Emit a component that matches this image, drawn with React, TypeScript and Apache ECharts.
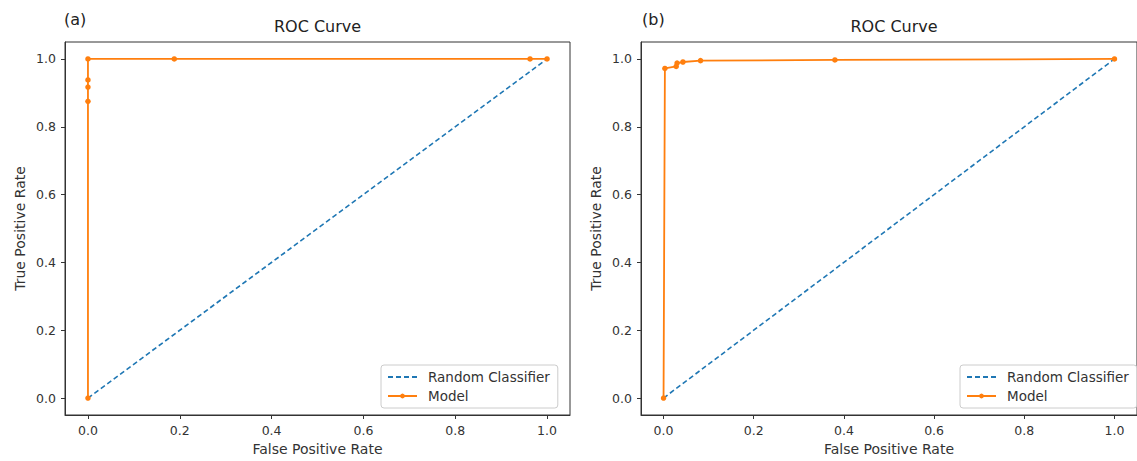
import React, { useEffect, useRef } from "react";
import * as echarts from "echarts";

const fprA = [0, 0, 0, 0, 0, 0.188, 0.963, 1];
const tprA = [0, 0.875, 0.917, 0.938, 1.0, 1.0, 1.0, 1.0];
const fprB = [0, 0.003, 0.028, 0.03, 0.043, 0.082, 0.38, 1];
const tprB = [0, 0.972, 0.978, 0.988, 0.991, 0.995, 0.997, 1.0];
const diag = [0, 1];
const ticks = [0, 0.2, 0.4, 0.6, 0.8, 1.0];
const panelLabels = ["(a)", "(b)"];
const titleText = "ROC Curve";
const legendNames = ["Random Classifier", "Model"];

const BLUE = "#1f77b4";
const ORANGE = "#ff7f0e";
const FONT = "DejaVu Sans";
const TXT = "#333";

const gridsPx = [
  { left: 65, top: 42, width: 505, height: 378 },
  { left: 641, top: 42, width: 505, height: 378 },
];

export default function App() {
  const ref = useRef<HTMLDivElement>(null);
  useEffect(() => {
    const chart = echarts.init(ref.current!, null, { renderer: "svg" });
    const axisCommon = {
      type: "value",
      min: -0.05,
      max: 1.05,
      axisLine: { show: true, onZero: false, lineStyle: { color: "#333", width: 1 } },
      axisTick: { show: true, length: 4, lineStyle: { color: "#333" }, customValues: ticks },
      axisLabel: {
        color: TXT,
        fontFamily: FONT,
        fontSize: 12.5,
        margin: 9,
        customValues: ticks,
        formatter: (v: number) => v.toFixed(1),
      },
      splitLine: { show: false },
      nameLocation: "middle",
      nameTextStyle: { color: TXT, fontFamily: FONT, fontSize: 14 },
    };
    const mkX = (gi: number) => ({
      ...axisCommon,
      gridIndex: gi,
      name: "False Positive Rate",
      nameGap: 27,
    });
    const mkY = (gi: number) => ({
      ...axisCommon,
      gridIndex: gi,
      name: "True Positive Rate",
      nameGap: 38,
    });
    const mkSeries = (gi: number, fpr: number[], tpr: number[]) => [
      {
        name: legendNames[0],
        type: "line",
        xAxisIndex: gi,
        yAxisIndex: gi,
        data: diag.map((v) => [v, v]),
        symbol: "none",
        lineStyle: { color: BLUE, type: [5, 3], width: 1.6 },
        itemStyle: { color: BLUE },
        z: 2,
      },
      {
        name: legendNames[1],
        type: "line",
        xAxisIndex: gi,
        yAxisIndex: gi,
        data: fpr.map((x, i) => [x, tpr[i]]),
        symbol: "circle",
        symbolSize: 5.5,
        showSymbol: true,
        lineStyle: { color: ORANGE, width: 1.8 },
        itemStyle: { color: ORANGE },
        z: 3,
      },
    ];
    const mkLegend = (left: number) => ({
      data: [
        { name: legendNames[0], itemStyle: { opacity: 0 } },
        { name: legendNames[1] },
      ],
      orient: "vertical",
      left,
      top: 365,
      itemWidth: 29,
      itemHeight: 6,
      itemGap: 5,
      padding: [5, 8, 5, 6],
      backgroundColor: "#fff",
      borderColor: "#ccc",
      borderWidth: 1,
      borderRadius: 3,
      textStyle: { fontFamily: FONT, fontSize: 13.5, color: TXT, padding: [0, 0, 0, 6] },
    });
    const titleStyle = { fontFamily: FONT, fontSize: 16, fontWeight: "normal", color: "#222" };
    chart.setOption({
      animation: false,
      backgroundColor: "#fff",
      grid: gridsPx.map((g) => ({
        ...g,
        show: true,
        borderColor: "#333",
        borderWidth: 1,
        backgroundColor: "transparent",
        containLabel: false,
      })),
      xAxis: [mkX(0), mkX(1)],
      yAxis: [mkY(0), mkY(1)],
      title: [
        {
          text: titleText,
          left: gridsPx[0].left + gridsPx[0].width / 2,
          textAlign: "center",
          top: 18,
          padding: 0,
          textStyle: titleStyle,
        },
        {
          text: titleText,
          left: 894,
          textAlign: "center",
          top: 18,
          padding: 0,
          textStyle: titleStyle,
        },
        {
          text: panelLabels[0],
          left: 64,
          top: 11,
          padding: 0,
          textStyle: titleStyle,
        },
        {
          text: panelLabels[1],
          left: 642,
          top: 11,
          padding: 0,
          textStyle: titleStyle,
        },
      ],
      legend: [mkLegend(381), mkLegend(960)],
      series: [...mkSeries(0, fprA, tprA), ...mkSeries(1, fprB, tprB)],
    });
    return () => chart.dispose();
  }, []);
  return (
    <div
      ref={ref}
      style={{ position: "fixed", left: 0, top: 0, width: 1137, height: 461 }}
    />
  );
}
